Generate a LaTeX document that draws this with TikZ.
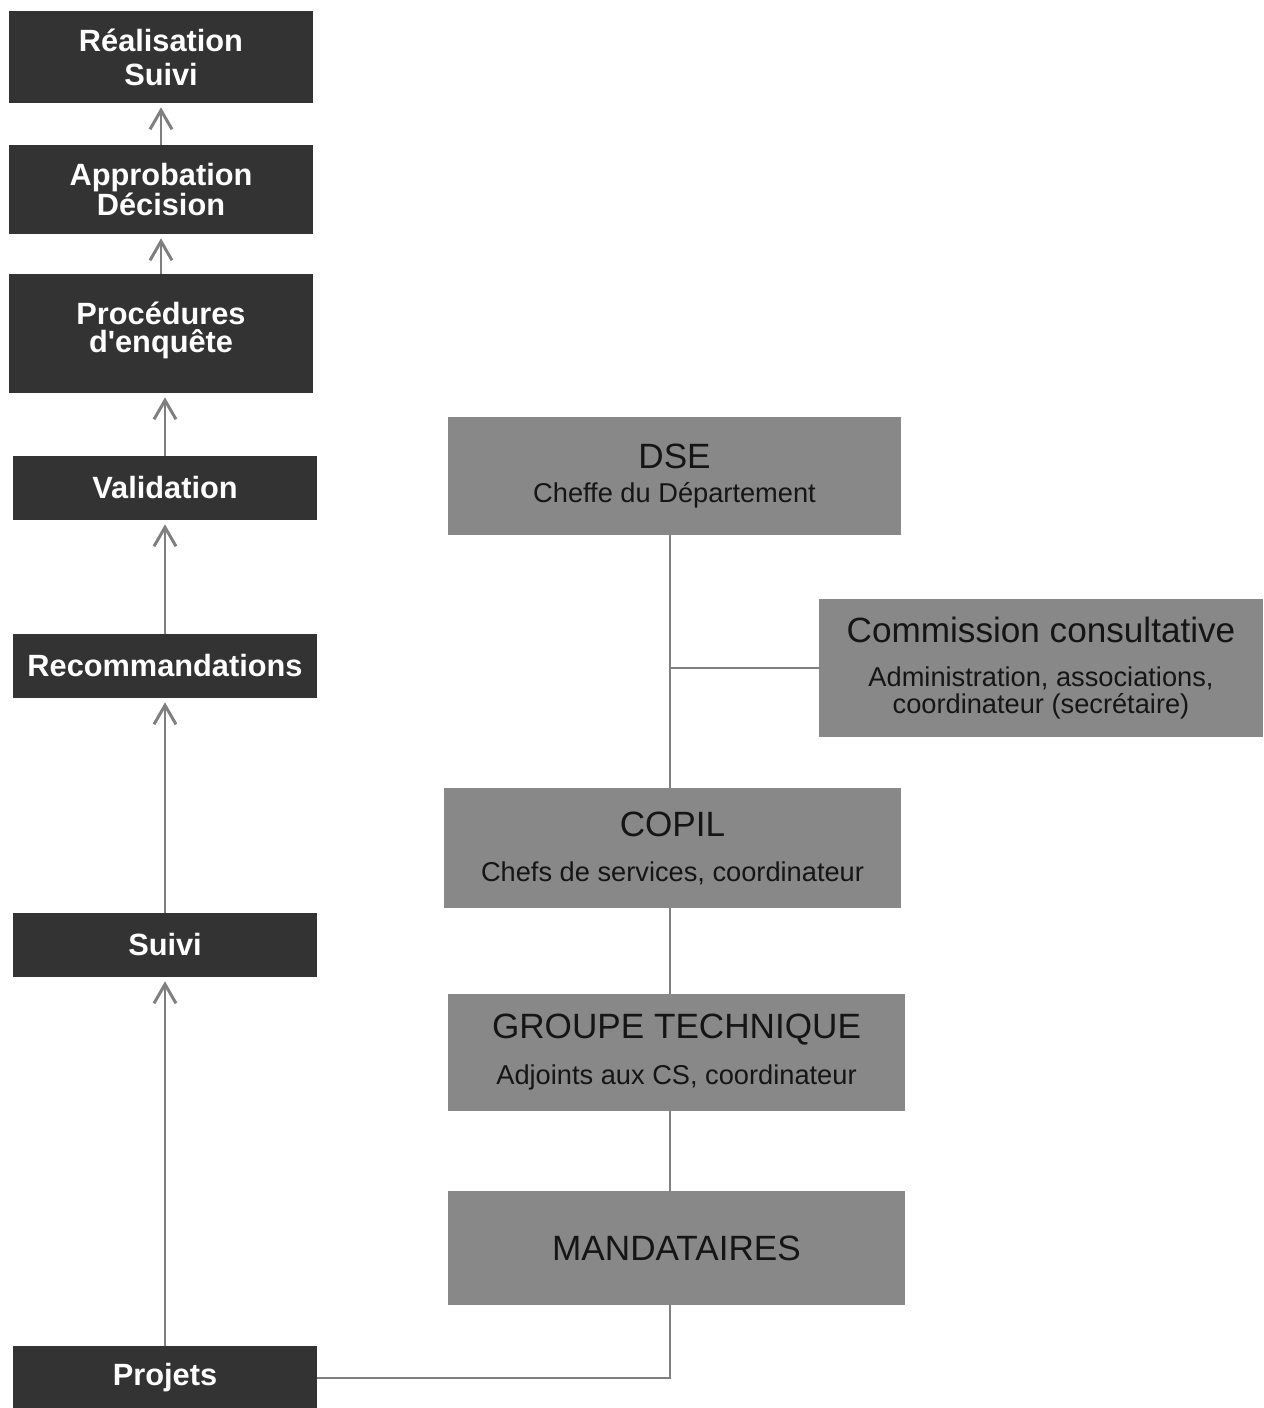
\documentclass[tikz,border=0pt]{standalone}
\usepackage{fontspec}
\setmainfont{Liberation Sans}
\usetikzlibrary{positioning, arrows.meta}
\definecolor{stepdark}{HTML}{333333}
\definecolor{orggrey}{HTML}{888888}
\definecolor{linkgrey}{HTML}{7F7F7F}
\definecolor{orgtext}{HTML}{151515}
\newcommand{\orgtitle}[1]{{\fontsize{20}{20}\selectfont #1}}
\tikzset{
  stepbox/.style={fill=stepdark, text=white, inner sep=0pt, align=center,
    minimum width=6.08cm, font=\bfseries\fontsize{17.5}{17.5}\selectfont},
  orgbox/.style={fill=orggrey, text=orgtext, inner sep=0pt, align=center,
    font=\fontsize{15.5}{15.4}\selectfont},
  uparrow/.style={draw=linkgrey, line width=1.7pt,
    -{Straight Barb[length=0.38cm, width=0.44cm]}, shorten >=0.08cm},
  orgline/.style={draw=linkgrey, line width=1.6pt},
}
\begin{document}
\begin{tikzpicture}[x=0.02cm, y=-0.02cm]
            \useasboundingbox (0, 0) rectangle (1263, 1408);

            % procedure steps
            \node [stepbox, minimum height=1.84cm] (real) at (161, 57) {Réalisation\\[1.8pt]Suivi};
            \node [stepbox, minimum height=1.78cm] (appro) at (161, 189.5) {Approbation\\Décision};
            \node [stepbox, minimum height=2.38cm, text depth=0.25cm] (proc) at (161, 333.5) {Procédures\\[-1.5pt]d\textquotesingle enquête};
            \node [stepbox, minimum height=1.28cm] (valid) at (165, 488) {Validation};
            \node [stepbox, minimum height=1.28cm] (recom) at (165, 666) {Recommandations};
            \node [stepbox, minimum height=1.28cm] (suivi) at (165, 945) {Suivi};
            \node [stepbox, minimum height=1.28cm] (proj) at (165, 1378) {Projets};

            % organisation
            \node [orgbox, minimum width=9.06cm, minimum height=2.36cm] (dse) at (674.5, 476)
                {\orgtitle{DSE}\\[3.9pt]Cheffe du Département};
            \node [orgbox, minimum width=8.88cm, minimum height=2.76cm] (cc) at (1041, 668)
                {\orgtitle{Commission consultative}\\[9.6pt]Administration, associations,\\coordinateur (secrétaire)};
            \node [orgbox, minimum width=9.14cm, minimum height=2.40cm] (copil) at (672.5, 848)
                {\orgtitle{COPIL}\\[10.2pt]Chefs de services, coordinateur};
            \node [orgbox, minimum width=9.14cm, minimum height=2.34cm] (gt) at (676.5, 1052.5)
                {\orgtitle{GROUPE TECHNIQUE}\\[10.8pt]Adjoints aux CS, coordinateur};
            \node [orgbox, minimum width=9.14cm, minimum height=2.28cm] (mand) at (676.5, 1248)
                {\orgtitle{MANDATAIRES}};
            \coordinate (spine) at (670, 0);

            \draw [uparrow] (appro.north) -- (real.south);
            \draw [uparrow] (proc.north) -- (appro.south);
            \draw [uparrow] (valid.north) -- (valid.north |- proc.south);
            \draw [uparrow] (recom.north) -- (valid.south);
            \draw [uparrow] (suivi.north) -- (recom.south);
            \draw [uparrow] (proj.north) -- (suivi.south);

            \draw [orgline] (dse.south -| spine) -- (copil.north -| spine);
            \draw [orgline] (cc.west -| spine) -- (cc.west);
            \draw [orgline] (copil.south -| spine) -- (gt.north -| spine);
            \draw [orgline] (gt.south -| spine) -- (mand.north -| spine);
            \draw [orgline] (mand.south -| spine) |- (proj.east);
        \end{tikzpicture}
\end{document}
